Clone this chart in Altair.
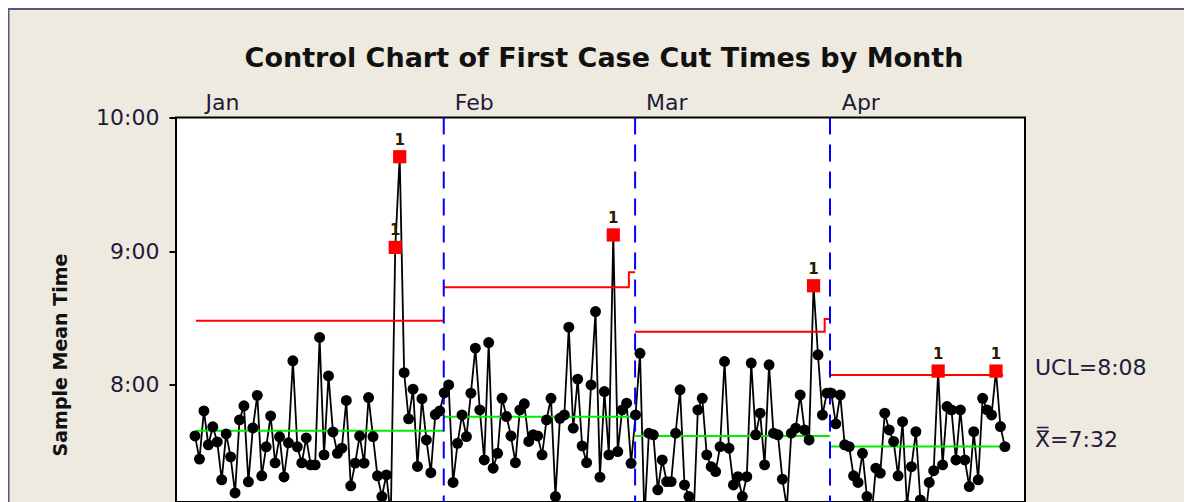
import altair as alt
import pandas as pd

# ---- data (times in minutes after midnight) ----
months = ["Jan", "Feb", "Mar", "Apr"]
jan = [457.1, 446.7, 468.3, 453.1, 461.2, 454.4, 437.4, 458.0, 447.7, 431.5,
       464.3, 470.6, 436.5, 460.7, 475.3, 439.2, 452.2, 466.1, 445.0, 456.7,
       438.7, 454.0, 490.8, 452.2, 445.0, 456.2, 444.1, 444.1, 501.3, 448.6,
       484.0, 458.9, 449.3, 451.6, 473.0, 434.7, 444.9, 457.1, 444.9, 474.3,
       456.8, 439.2, 429.9, 439.6, 421.0, 541.7, 582.4, 485.5, 464.8, 478.1,
       443.4, 473.8, 455.3, 440.6, 466.7, 468.3]
feb = [476.4, 480.0, 436.2, 453.8, 466.5, 456.8, 476.3, 496.5, 468.8, 446.3,
       499.0, 442.6, 449.3, 474.0, 465.8, 457.1, 445.1, 468.8, 471.5, 454.6,
       457.6, 457.1, 448.6, 464.3, 474.0, 429.9, 465.0, 466.5, 505.9, 460.6,
       482.6, 452.6, 445.1, 480.0, 512.9, 438.6, 477.0, 448.6, 547.3, 450.1,
       468.8, 471.8, 444.8]
mar = [466.5, 494.2, 420.0, 458.3, 457.6, 432.9, 446.3, 436.6, 436.6, 458.3,
       477.8, 435.1, 429.9, 418.0, 468.8, 474.0, 448.6, 443.3, 441.1, 452.3,
       490.5, 451.6, 435.1, 438.8, 429.9, 438.8, 489.8, 457.6, 467.3, 444.1,
       489.0, 458.3, 457.6, 437.7, 425.0, 458.3, 460.6, 475.5, 459.8, 455.3,
       524.5, 493.5, 466.5, 476.3]
apr = [476.3, 462.5, 475.5, 453.1, 452.3, 439.2, 436.2, 449.3, 429.9, 420.0,
       442.6, 440.4, 467.3, 459.8, 454.6, 439.2, 463.5, 426.0, 443.3, 459.0,
       428.4, 418.0, 436.2, 441.5, 486.2, 444.1, 470.3, 468.8, 446.3, 468.8,
       446.3, 434.4, 459.0, 437.4, 474.0, 468.8, 466.5, 486.2, 461.3, 452.3]
flagged = [45, 46, 94, 139, 167, 180]          # out-of-control samples (test 1)
month_first = [0, 56, 99, 143]                 # first sample of each month
stage_breaks = [55.9, 98.9, 142.7]             # month boundaries

ucl_month = ["Jan", "Feb", "Feb", "Mar", "Mar", "Apr"]
ucl_from = [0.2, 55.9, 97.5, 98.9, 141.5, 142.7]
ucl_to = [55.9, 97.5, 98.9, 141.5, 142.7, 181.6]
ucl_val = [508.8, 523.8, 530.5, 503.9, 509.6, 484.4]

cl_from = [0.2, 55.9, 98.9, 142.7]
cl_to = [55.9, 98.9, 142.7, 181.6]
cl_val = [459.4, 465.7, 457.1, 452.3]

title_text = "Control Chart of First Case Cut Times by Month"
ucl_text = "UCL=8:08"
cl_text = "X\u033F=7:32"
y_ticks = [480, 540, 600]

# ---- tables ----
values = jan + feb + mar + apr
month_of = (["Jan"] * len(jan) + ["Feb"] * len(feb) +
            ["Mar"] * len(mar) + ["Apr"] * len(apr))
df = pd.DataFrame({"sample": list(range(len(values))), "time": values, "month": month_of})
df["flag"] = df["sample"].isin(flagged)

ucl_rows = []
k = 0
for m, a, b, v in zip(ucl_month, ucl_from, ucl_to, ucl_val):
    ucl_rows.append({"month": m, "sample": a, "time": v, "ord": k}); k += 1
    ucl_rows.append({"month": m, "sample": b, "time": v, "ord": k}); k += 1
ucl_df = pd.DataFrame(ucl_rows)
cl_df = pd.DataFrame({"sample": cl_from, "sample2": cl_to, "time": cl_val})
brk_df = pd.DataFrame({"sample": stage_breaks})
lab_df = pd.DataFrame({"time": [ucl_val[-1], cl_val[-1]], "txt": [ucl_text, cl_text],
                       "dy": [-2, 7]})

FONT = "DejaVu Sans"
LABEL_COL = "#1c1b3a"
W, H = 849, 384.5          # plot area (continues below the visible window)
PAD_L, PAD_T = 168, 109.5
PX_PER_MIN = 2.2283

names_js = "[" + ",".join("'%s'" % m for m in months) + "]"
firsts_js = "[" + ",".join(str(v) for v in month_first) + "]"

xscale = alt.Scale(domain=[-4.27, 186.52], nice=False, zero=False)
yscale = alt.Scale(domain=[600 - H / PX_PER_MIN, 600], nice=False, zero=False)
xaxis = alt.Axis(orient="top", values=month_first, title=None,
                 labelExpr=names_js + "[indexof(" + firsts_js + ", datum.value)]",
                 ticks=False, tickSize=0, domain=False, grid=False,
                 labelAlign="left", labelBaseline="alphabetic", labelOffset=10,
                 labelPadding=8, labelFont=FONT, labelFontSize=22, labelColor=LABEL_COL,
                 labelBound=False, labelFlush=False, labelOverlap=False)
yaxis = alt.Axis(values=y_ticks, labelExpr="floor(datum.value/60) + ':00'",
                 title="Sample Mean Time", titleFont=FONT, titleFontSize=19,
                 titleFontWeight="bold", titleColor="#111111", titleAngle=270,
                 titleAlign="center", titleBaseline="bottom", titleX=-106, titleY=237,
                 labelFont=FONT, labelFontSize=22, labelColor=LABEL_COL, labelPadding=10,
                 tickSize=7, tickWidth=2, tickColor="black", domain=False, grid=False,
                 labelFlush=False, labelBound=False, labelOverlap=False)

X = alt.X("sample:Q", scale=xscale, axis=xaxis)
Y = alt.Y("time:Q", scale=yscale, axis=yaxis)

one = pd.DataFrame({"k": [0]})
frame = alt.Chart(one).mark_rect(
    fill=None, fillOpacity=0, stroke="#5b5088", strokeWidth=2).encode(
    x=alt.value(-PAD_L + 0.5), x2=alt.value(1100), y=alt.value(-PAD_T + 1), y2=alt.value(600))

title = alt.Chart(one).mark_text(
    text=title_text, font=FONT, fontSize=27, fontWeight="bold", color="#111111",
    align="center", baseline="alphabetic").encode(
    x=alt.value(W / 2 + 3.5), y=alt.value(-50.5))

line = alt.Chart(df).mark_line(color="black", strokeWidth=1.8, clip=True).encode(x=X, y=Y)

cl = alt.Chart(cl_df).mark_rule(color="#00ee00", strokeWidth=2, clip=True).encode(
    x=X, x2="sample2:Q", y=Y)

ucl = alt.Chart(ucl_df).mark_line(color="#ff0000", strokeWidth=2, clip=True).encode(
    x=X, y=Y, detail="month:N", order="ord:Q")

brk = alt.Chart(brk_df).mark_rule(color="#0000ff", strokeWidth=2, strokeDash=[17, 10]).encode(x=X)

dots = alt.Chart(df).transform_filter("!datum.flag").mark_circle(
    color="black", size=120, opacity=1, clip=True).encode(x=X, y=Y)

reds = alt.Chart(df).transform_filter("datum.flag").mark_square(
    color="#ff0000", size=175, opacity=1).encode(x=X, y=Y)

ones = alt.Chart(df).transform_filter("datum.flag").mark_text(
    text="1", dy=-17, font=FONT, fontSize=15, fontWeight="bold", color="#2b1a00").encode(x=X, y=Y)

labs = alt.Chart(lab_df).mark_text(
    align="left", baseline="alphabetic", font=FONT, fontSize=22, color=LABEL_COL).encode(
    x=alt.value(W + 10), y=Y, text="txt:N", yOffset="dy:Q")

chart = alt.layer(frame, title, line, cl, ucl, brk, dots, reds, ones, labs).properties(
    width=W, height=H,
    padding={"left": PAD_L, "top": PAD_T, "right": 1176 - PAD_L - W, "bottom": 0},
    autosize=alt.AutoSizeParams(type="none"),
).configure(background="#eeeae0").configure_view(fill="white", stroke="black", strokeWidth=2)

chart.save("out.html", embed_options={"renderer": "svg", "actions": False})
